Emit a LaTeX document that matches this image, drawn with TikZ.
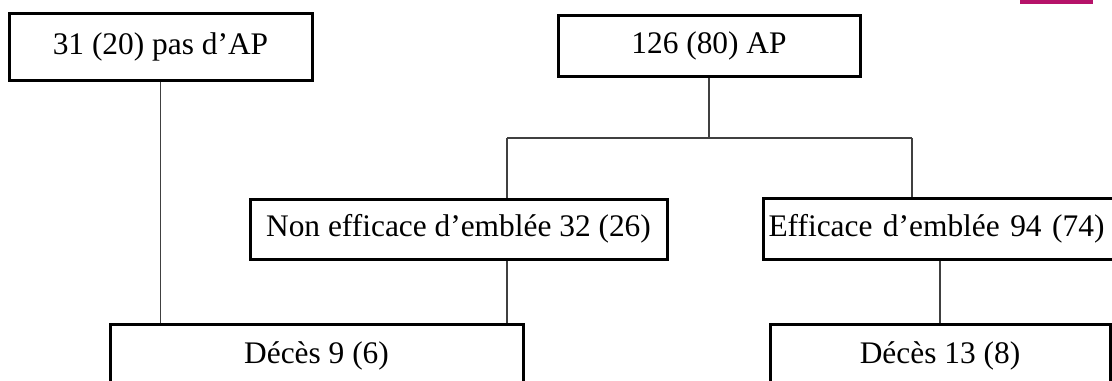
\documentclass[tikz,border=0pt]{standalone}
\usepackage{fontspec}
\setmainfont{Liberation Serif}
\definecolor{accent}{RGB}{182,18,105}
\begin{document}
\begin{tikzpicture}[x=0.5pt,y=-0.5pt,
  box/.style={draw=black, line width=1.5pt, inner sep=0pt,
    font=\fontsize{15.7}{18}\selectfont},
  link/.style={draw=black!75, line width=0.55pt}]
\useasboundingbox (0,0) rectangle (1112,380);

% corner mark
\fill[accent] (1020,0) rectangle (1093,4);

% boxes
\node[box, minimum width=151.5pt, minimum height=33.5pt] (A) at (160.5,46.5) {31 (20) pas d’AP};
\node[box, minimum width=151pt, minimum height=30.5pt] (B) at (709,45.5) {126 (80) AP};
\node[box, minimum width=208.5pt, minimum height=30pt] (C) at (458.5,229) {Non efficace d’emblée 32 (26)};
\node[box, anchor=west, text width=182pt, align=left, inner xsep=2.5pt,
      minimum height=30.5pt] (D) at (762,228.5) {Efficace d’emblée 94 (74)};
\node[box, minimum width=206.5pt, minimum height=32pt] (E) at (316.5,356) {Décès 9 (6)};
\node[box, minimum width=170pt, minimum height=32pt] (F) at (940,356) {Décès 13 (8)};

% branch points
\coordinate (jL) at (507,138);
\coordinate (jR) at (912,138);

% connectors
\draw[link] (A.south) -- (A.south |- E.north);
\draw[link] (B.south) -- (B.south |- jL);
\draw[link] (jL) -- (jR);
\draw[link] (jL) -- (jL |- C.north);
\draw[link] (jR) -- (jR |- D.north);
\draw[link] (jL |- C.south) -- (jL |- E.north);
\draw[link] (F.north) -- (F.north |- D.south);
\end{tikzpicture}
\end{document}
